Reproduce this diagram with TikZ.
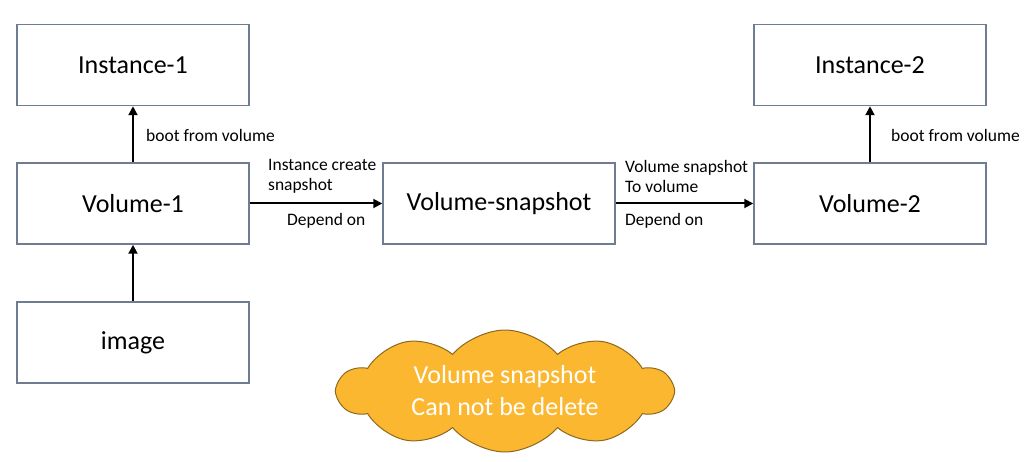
\documentclass[tikz,border=0pt]{standalone}
\usepackage{fontspec}
\setmainfont{Carlito}
\usetikzlibrary{shapes.symbols,arrows.meta}
\definecolor{boxline}{RGB}{112,124,145}
\definecolor{cloudfill}{RGB}{251,183,48}
\definecolor{cloudline}{RGB}{140,105,30}
\tikzstyle{block}=[draw=boxline, line width=1.5pt, minimum width=232pt, minimum height=81pt, inner sep=0pt, font=\fontsize{26}{30}\selectfont]
\tikzstyle{link}=[draw=black, line width=2pt, -{Triangle[length=9pt, width=9pt]}]
\tikzstyle{tag}=[anchor=west, inner sep=0pt, align=left, font=\fontsize{17.5}{20}\selectfont]
\tikzstyle{note}=[cloud, cloud puffs=10, cloud puff arc=100, aspect=3, draw=cloudline, fill=cloudfill, line width=1pt, minimum width=334pt, minimum height=112pt, inner sep=0pt, text=white, align=center, font=\fontsize{26}{32}\selectfont]

\begin{document}
\begin{tikzpicture}[x=1pt, y=-1pt]
            \useasboundingbox (0,0) rectangle (1034,462);

            \begin{scope}[every node/.style={block}]
                \node (inst1) at (133,65) {Instance-1};
                \node (vol1) at (133,203.5) {Volume-1};
                \node (img) at (133,342.5) {image};
                \node (snap) at (499,203.5) {Volume-snapshot};
                \node (vol2) at (870,203.5) {Volume-2};
                \node (inst2) at (870,65) {Instance-2};
            \end{scope}

            \begin{scope}[every path/.style={link}]
                \path (vol1) -- (inst1);
                \path (img) -- (vol1);
                \path (vol1) -- (snap);
                \path (snap) -- (vol2);
                \path (vol2) -- (inst2);
            \end{scope}

            \begin{scope}[every node/.style={tag}]
                \node (boot1) at (146,135) {boot from volume};
                \node (create) at (268,176) {Instance create\\snapshot};
                \node (dep1) at (287,221) {Depend on};
                \node (tovol) at (625,176) {Volume snapshot\\To volume};
                \node (dep2) at (625,221) {Depend on};
                \node (boot2) at (891,135) {boot from volume};
            \end{scope}

            \node[note] (warn) at (505,391) {Volume snapshot\\Can not be delete};
        \end{tikzpicture}
\end{document}
